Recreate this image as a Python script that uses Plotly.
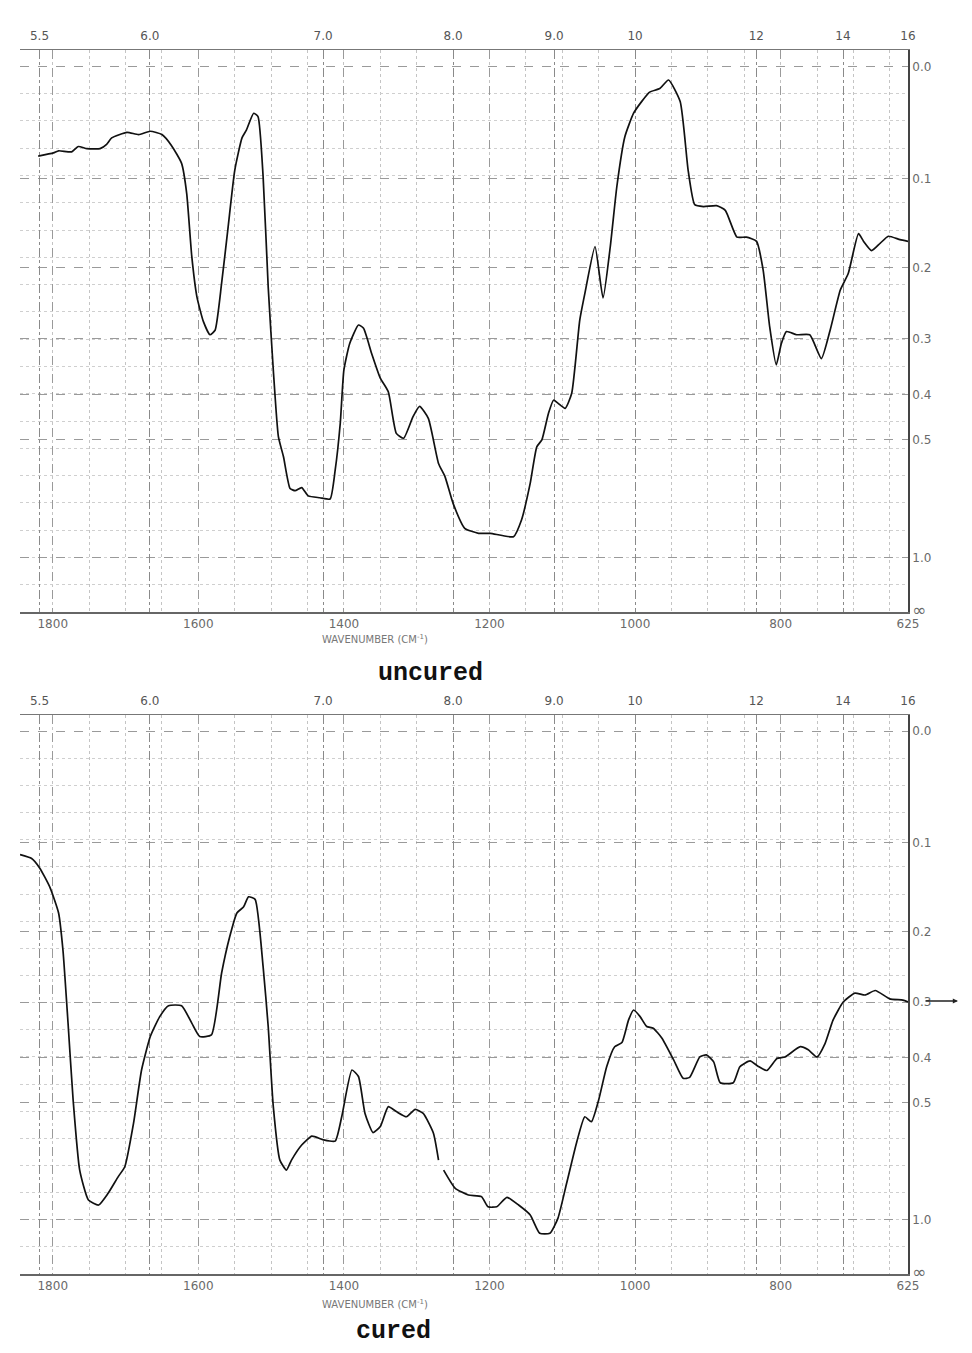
import plotly.graph_objects as go

# ---------------- data ----------------
# wavenumber (cm-1) and absorbance for the uncured sample
wn_uncured = [1820, 1799, 1792, 1774, 1765, 1753, 1735, 1726, 1719, 1698,
              1682, 1666, 1650, 1637, 1623, 1616, 1609, 1602, 1593, 1584,
              1577, 1568, 1559, 1550, 1540, 1534, 1524, 1518, 1511, 1504,
              1497, 1490, 1483, 1474, 1467, 1458, 1449, 1433, 1419, 1412,
              1405, 1400, 1392, 1380, 1373, 1362, 1350, 1339, 1328, 1318,
              1305, 1296, 1284, 1270, 1261, 1250, 1234, 1215, 1199, 1167,
              1156, 1144, 1135, 1128, 1119, 1112, 1106, 1096, 1087, 1076,
              1069, 1055, 1044, 1034, 1025, 1014, 1002, 991, 980, 966,
              954, 938, 927, 918, 906, 888, 876, 860, 847, 833,
              824, 815, 806, 799, 792, 778, 760, 744, 732, 718,
              707, 693, 686, 675, 663, 652, 636, 625]
abs_uncured = [0.078, 0.075, 0.073, 0.074, 0.069, 0.071, 0.071, 0.067, 0.061, 0.056,
               0.058, 0.055, 0.058, 0.068, 0.085, 0.115, 0.186, 0.238, 0.274, 0.294,
               0.287, 0.220, 0.151, 0.092, 0.061, 0.054, 0.039, 0.042, 0.098, 0.225,
               0.353, 0.493, 0.546, 0.645, 0.653, 0.642, 0.672, 0.679, 0.684, 0.585,
               0.461, 0.353, 0.308, 0.279, 0.284, 0.324, 0.368, 0.394, 0.485, 0.497,
               0.446, 0.424, 0.450, 0.565, 0.606, 0.701, 0.814, 0.841, 0.841, 0.860,
               0.773, 0.627, 0.519, 0.501, 0.439, 0.411, 0.417, 0.428, 0.397, 0.272,
               0.234, 0.174, 0.240, 0.174, 0.108, 0.060, 0.039, 0.029, 0.021, 0.018,
               0.011, 0.029, 0.092, 0.127, 0.129, 0.128, 0.133, 0.163, 0.163, 0.168,
               0.203, 0.282, 0.344, 0.308, 0.289, 0.294, 0.294, 0.333, 0.287, 0.229,
               0.207, 0.159, 0.168, 0.179, 0.170, 0.162, 0.166, 0.168]

# wavenumber (cm-1) and absorbance for the cured sample (None = break in trace)
wn_cured = [1845, 1829, 1818, 1804, 1792, 1786, 1779, 1772, 1763, 1751,
            1737, 1724, 1710, 1701, 1689, 1678, 1666, 1653, 1641, 1623,
            1609, 1598, 1582, 1568, 1557, 1547, 1538, 1531, 1522, 1511,
            1504, 1497, 1488, 1479, 1472, 1458, 1444, 1428, 1412, 1403,
            1389, 1380, 1371, 1360, 1350, 1339, 1328, 1314, 1302, 1291,
            1277, 1270, 1266, 1263, 1247, 1229, 1211, 1202, 1190, 1176,
            1160, 1144, 1131, 1117, 1106, 1094, 1080, 1069, 1060, 1050,
            1039, 1028, 1018, 1009, 1002, 993, 984, 975, 963, 947,
            934, 925, 911, 902, 892, 883, 865, 856, 842, 831,
            819, 805, 794, 773, 762, 750, 739, 728, 714, 698,
            684, 670, 650, 632, 625]
abs_cured = [0.112, 0.116, 0.126, 0.147, 0.177, 0.224, 0.335, 0.494, 0.718, 0.865,
             0.896, 0.828, 0.746, 0.704, 0.556, 0.425, 0.359, 0.324, 0.306, 0.306,
             0.335, 0.359, 0.356, 0.256, 0.207, 0.177, 0.170, 0.158, 0.161, 0.247,
             0.341, 0.511, 0.678, 0.718, 0.678, 0.624, 0.595, 0.607, 0.611, 0.538,
             0.425, 0.439, 0.529, 0.584, 0.566, 0.511, 0.524, 0.538, 0.518, 0.529,
             0.586, 0.678, None, 0.718, 0.802, 0.837, 0.846, 0.907, 0.907, 0.850,
             0.896, 0.964, 1.125, 1.125, 0.989, 0.777, 0.613, 0.538, 0.552, 0.494,
             0.418, 0.378, 0.370, 0.330, 0.313, 0.324, 0.341, 0.344, 0.362, 0.404,
             0.443, 0.441, 0.398, 0.394, 0.408, 0.453, 0.453, 0.418, 0.406, 0.417,
             0.426, 0.401, 0.398, 0.378, 0.384, 0.398, 0.372, 0.330, 0.300, 0.286,
             0.289, 0.282, 0.295, 0.297, 0.300]

# axis tick labels
wn_ticks = [1800, 1600, 1400, 1200, 1000, 800, 625]
micron_ticks = [5.5, 6.0, 7.0, 8.0, 9.0, 10, 12, 14, 16]
micron_labels = ["5.5", "6.0", "7.0", "8.0", "9.0", "10", "12", "14", "16"]
abs_ticks = [0.0, 0.1, 0.2, 0.3, 0.4, 0.5, 1.0]
abs_labels = ["0.0", "0.1", "0.2", "0.3", "0.4", "0.5", "1.0",
              "<span style='font-size:17px'>∞</span>"]
panel_names = ["uncured", "cured"]
axis_title = "WAVENUMBER (CM<sup>-1</sup>)"


def to_T(a):
    return None if a is None else 10 ** (-a)


# chart paper is linear in transmittance, labelled in absorbance
T_ticks = [to_T(a) for a in abs_ticks] + [0.0]
T_minor = [round(0.05 * i, 2) for i in range(1, 20)]
wn_minor = list(range(1800, 600, -50))
micron_pos = [10000.0 / m for m in micron_ticks]

W, H = 972, 1353
X0, X1 = 20, 908
XR = [1845, 625]
YR = [0, 1.03]
grid_col = "#9a9a9a"
tick_font = dict(family="DejaVu Sans, Arial", size=12, color="#6a6a6a")
line_style = dict(color="#111", width=1.7, shape="spline", smoothing=0.5)

T_uncured = [to_T(a) for a in abs_uncured]
T_cured = [to_T(a) for a in abs_cured]

fig = go.Figure()
fig.add_trace(go.Scatter(x=wn_uncured, y=T_uncured, mode="lines", line=line_style,
                         xaxis="x", yaxis="y", showlegend=False, name=panel_names[0]))
fig.add_trace(go.Scatter(x=wn_cured, y=T_cured, mode="lines", line=line_style,
                         connectgaps=False, xaxis="x3", yaxis="y3", showlegend=False,
                         name=panel_names[1]))
# invisible copies so that the micron (top) axes are bound to data and drawn
fig.add_trace(go.Scatter(x=wn_uncured, y=T_uncured, mode="lines", line=dict(width=0),
                         opacity=0, hoverinfo="skip", xaxis="x2", yaxis="y", showlegend=False))
fig.add_trace(go.Scatter(x=wn_cured, y=T_cured, mode="lines", line=dict(width=0),
                         opacity=0, hoverinfo="skip", xaxis="x4", yaxis="y3", showlegend=False))


def xaxis_bottom(anchor):
    return dict(domain=[X0 / W, X1 / W], anchor=anchor, range=XR, autorange=False,
                tickmode="array", tickvals=wn_ticks, ticktext=[str(v) for v in wn_ticks],
                tickfont=tick_font, ticks="", showline=True, linecolor="#666", linewidth=1.5,
                showgrid=True, gridcolor=grid_col, griddash="dash", gridwidth=1,
                minor=dict(tickmode="array", tickvals=wn_minor, showgrid=True,
                           gridcolor="#c4c4c4", griddash="dot", gridwidth=1),
                zeroline=False, fixedrange=True)


def xaxis_top(over, anchor):
    return dict(overlaying=over, anchor=anchor, side="top", range=XR, autorange=False,
                tickmode="array", tickvals=micron_pos, ticktext=micron_labels,
                tickfont=dict(family="DejaVu Sans, Arial", size=12, color="#555"), ticks="",
                ticklabelstandoff=4,
                showline=True, linecolor="#777", linewidth=1.2,
                showgrid=True, gridcolor="#8a8a8a", griddash="dashdot", gridwidth=1,
                zeroline=False)


def yaxis(dom, anchor):
    return dict(domain=dom, anchor=anchor, side="right", range=YR, autorange=False,
                tickmode="array", tickvals=T_ticks, ticktext=abs_labels,
                tickfont=tick_font, ticks="", showline=True, linecolor="#444", linewidth=1.8,
                mirror=False, showgrid=True, gridcolor=grid_col, griddash="dash", gridwidth=1,
                minor=dict(tickmode="array", tickvals=T_minor, showgrid=True,
                           gridcolor="#cfcfcf", griddash="dot", gridwidth=1),
                zeroline=False)


top_dom = [(H - 612) / H, (H - 50) / H]
bot_dom = [(H - 1274) / H, (H - 715) / H]

fig.update_layout(
    width=W, height=H, margin=dict(l=0, r=0, t=0, b=0, autoexpand=False),
    paper_bgcolor="white", plot_bgcolor="white",
    xaxis=xaxis_bottom("y"), xaxis2=xaxis_top("x", "y"),
    yaxis=yaxis(top_dom, "x"),
    xaxis3=xaxis_bottom("y3"), xaxis4=xaxis_top("x3", "y3"),
    yaxis3=yaxis(bot_dom, "x3"),
)

annotations = []
for ytitle in (639, 1304):
    annotations.append(dict(text=axis_title, xref="paper", yref="paper",
                            x=375 / W, y=(H - ytitle) / H, showarrow=False,
                            xanchor="center", yanchor="middle",
                            font=dict(family="DejaVu Sans, Arial", size=10, color="#777")))
for name, xc, yc in [(panel_names[0], 430, 673), (panel_names[1], 393, 1331)]:
    annotations.append(dict(text="<b>" + name + "</b>", xref="paper", yref="paper",
                            x=xc / W, y=(H - yc) / H, showarrow=False,
                            xanchor="center", yanchor="middle",
                            font=dict(family="Liberation Mono, Courier New, monospace",
                                      size=25, color="#111")))
annotations.append(dict(text="", xref="paper", yref="paper", x=958 / W, y=(H - 1001) / H,
                        ax=-34, ay=0, showarrow=True, arrowhead=2, arrowsize=0.8,
                        arrowwidth=1.3, arrowcolor="#222"))
fig.update_layout(annotations=annotations)

fig.write_html("out.html")
